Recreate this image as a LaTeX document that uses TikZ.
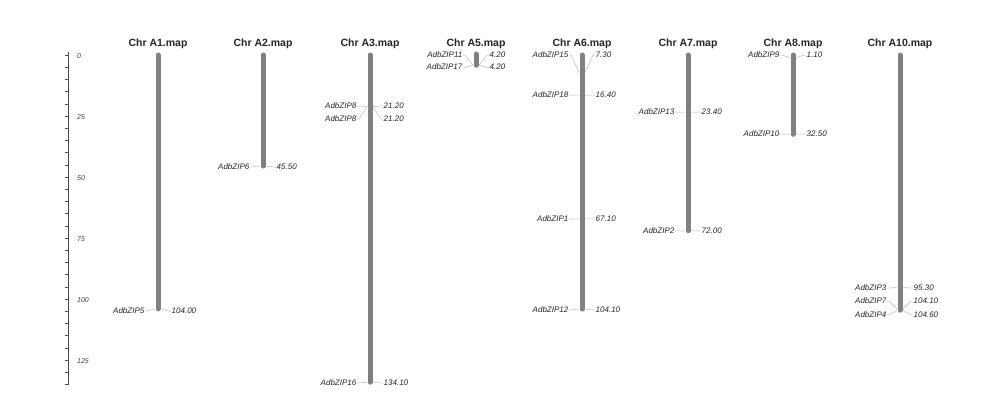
\documentclass[tikz,border=0pt]{standalone}
\usepackage{fontspec}
\setmainfont{Liberation Sans}
\usetikzlibrary{calc}
\begin{document}
\begin{tikzpicture}[x=1pt,y=-1pt,
  title/.style={font=\fontsize{10.5}{12}\selectfont\bfseries, inner sep=0pt, anchor=base, text=black!85},
  gname/.style={font=\fontsize{8}{9}\selectfont\itshape, inner sep=0.5pt, text=black!85},
  gnum/.style={font=\fontsize{8}{9}\selectfont\itshape, inner sep=0.5pt, text=black!85},
  conn/.style={draw=gray!55, line width=0.5pt},
  bar/.style={draw=gray!75!black!80, line width=5pt, line cap=round},
  axlab/.style={font=\fontsize{7}{8}\selectfont\itshape, inner sep=0pt, anchor=west, text=black!75},
  axis/.style={draw=black!70, line width=0.8pt}]
\useasboundingbox (0,0) rectangle (993,405);
\fill[white] (0,0) rectangle (993,405);
\newcommand\genemark[6]{%
  \coordinate (#1l) at (#2-3,{55+2.44*#3});
  \coordinate (#1r) at (#2+3,{55+2.44*#3});
  \node[gname, anchor=east] (#1n) at (#2-13,#4) {#5};
  \node[gnum, anchor=west] (#1v) at (#2+13,#4) {#6};
  \draw[conn] (#1n.east) -- ++(2,0) -- (#1l);
  \draw[conn] (#1r) -- ($(#1v.west)+(-2,0)$) -- (#1v.west);
}
% axis
\draw[axis] (68,52) -- (68,385);
\foreach \v in {0,5,...,135} {\draw[axis, line width=0.6pt] (68,{55+2.44*\v}) -- (65,{55+2.44*\v});}
\foreach \v in {0,25,...,125} {\node[axlab] (ax\v) at (77,{56+2.44*\v}) {\v};}
% titles
\foreach \c/\t/\id in {158/A1/a1,263/A2/a2,370/A3/a3,476/A5/a5,582/A6/a6,688/A7/a7,793/A8/a8,900/A10/a10}
  {\node[title] (t\id) at (\c,46) {Chr \t.map};}
% bars
\draw[bar] (158,55) -- (158,{55+2.44*104.00});
\draw[bar] (263,55) -- (263,{55+2.44*45.50});
\draw[bar] (370,55) -- (370,{55+2.44*134.10});
\draw[bar] (476,54) -- (476,{55+2.44*4.20});
\draw[bar] (582,55) -- (582,{55+2.44*104.10});
\draw[bar] (688,55) -- (688,{55+2.44*72.00});
\draw[bar] (793,55) -- (793,{55+2.44*32.50});
\draw[bar] (900,55) -- (900,{55+2.44*104.60});
% markers
\genemark{m5}{158}{104.00}{311}{AdbZIP5}{104.00}
\genemark{m6}{263}{45.50}{167}{AdbZIP6}{45.50}
\genemark{m8a}{370}{21.20}{106}{AdbZIP8}{21.20}
\genemark{m8b}{370}{21.20}{119}{AdbZIP8}{21.20}
\genemark{m16}{370}{134.10}{383}{AdbZIP16}{134.10}
\genemark{m11}{476}{4.20}{55}{AdbZIP11}{4.20}
\genemark{m17}{476}{4.20}{67}{AdbZIP17}{4.20}
\genemark{m15}{582}{7.30}{55}{AdbZIP15}{7.30}
\genemark{m18}{582}{16.40}{95}{AdbZIP18}{16.40}
\genemark{m1}{582}{67.10}{219}{AdbZIP1}{67.10}
\genemark{m12}{582}{104.10}{310}{AdbZIP12}{104.10}
\genemark{m13}{688}{23.40}{112}{AdbZIP13}{23.40}
\genemark{m2}{688}{72.00}{231}{AdbZIP2}{72.00}
\genemark{m9}{793}{1.10}{55}{AdbZIP9}{1.10}
\genemark{m10}{793}{32.50}{134}{AdbZIP10}{32.50}
\genemark{m3}{900}{95.30}{288}{AdbZIP3}{95.30}
\genemark{m7}{900}{104.10}{301}{AdbZIP7}{104.10}
\genemark{m4}{900}{104.60}{315}{AdbZIP4}{104.60}
\end{tikzpicture}
\end{document}
